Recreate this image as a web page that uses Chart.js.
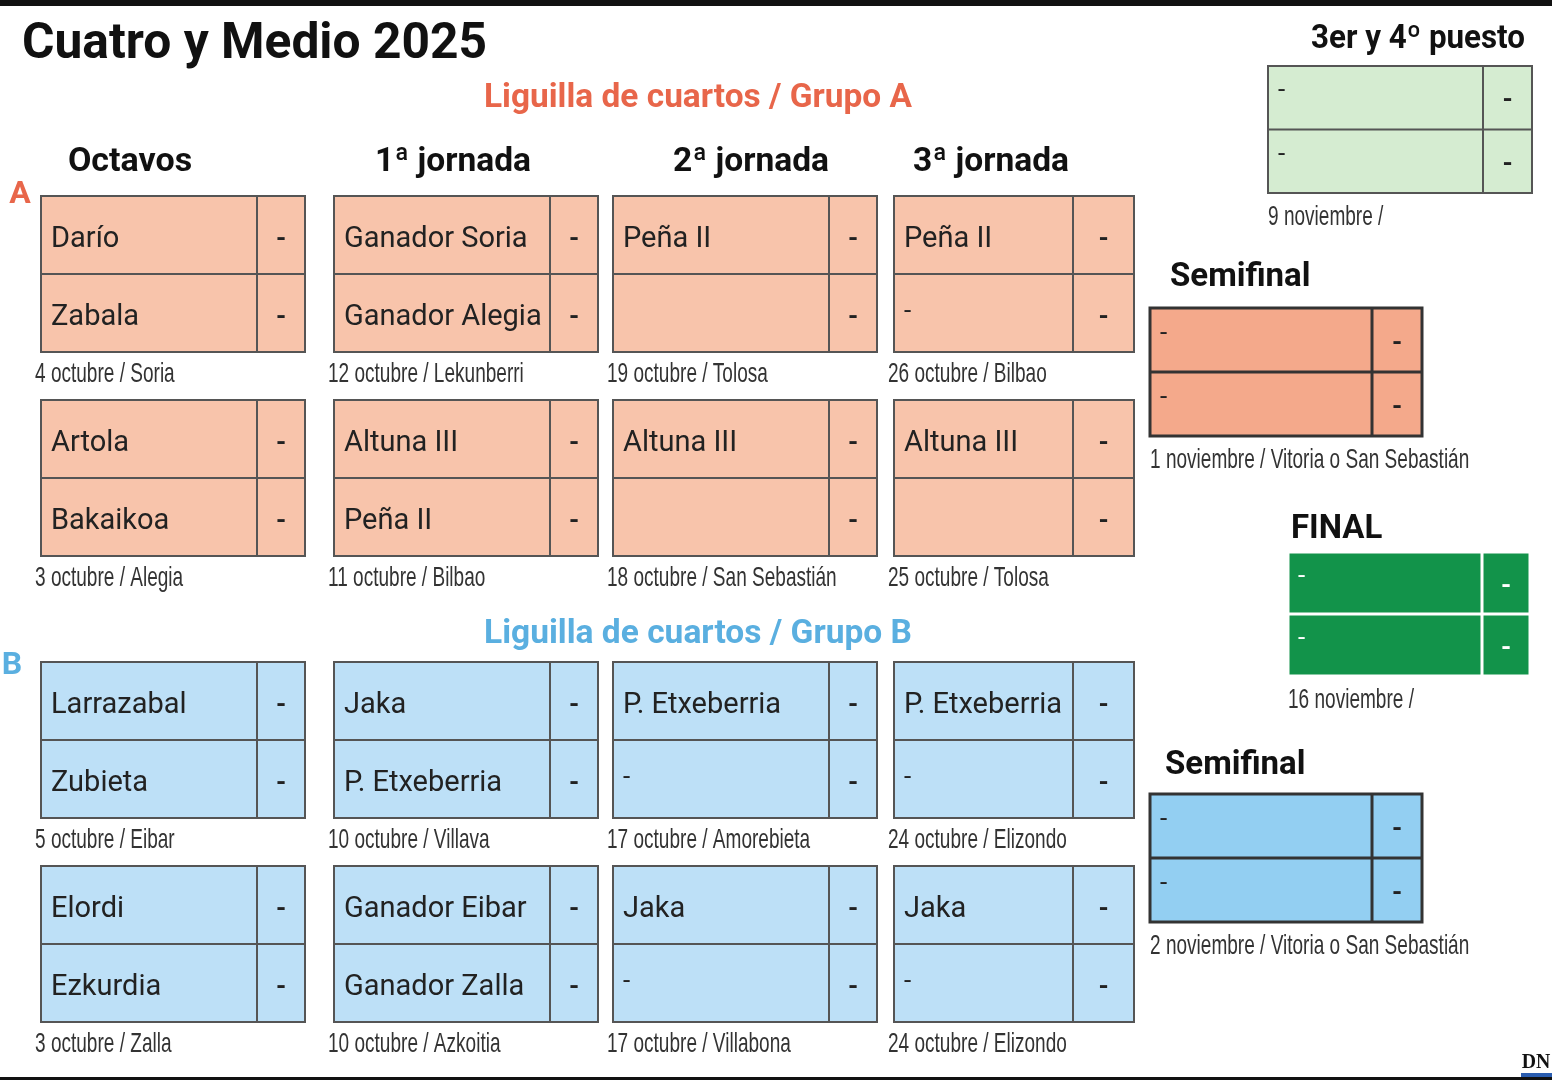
<!DOCTYPE html>
<html><head><meta charset="utf-8">
<script src="https://cdn.jsdelivr.net/npm/chart.js@4/dist/chart.umd.min.js"></script>
<style>html,body{margin:0;padding:0;background:#fff}#wrap{width:1552px;height:1080px;position:relative}</style>
</head><body><div id="wrap"><canvas id="c"></canvas></div>
<script>
const title = "Cuatro y Medio 2025";
const groupTitles = ["Liguilla de cuartos / Grupo A", "Liguilla de cuartos / Grupo B"];
const roundNames = ["Octavos", "1ª jornada", "2ª jornada", "3ª jornada"];

// [round][match] -> [player1, player2]
const groupA = [
  [["Darío", "Zabala"], ["Artola", "Bakaikoa"]],
  [["Ganador Soria", "Ganador Alegia"], ["Altuna III", "Peña II"]],
  [["Peña II", ""], ["Altuna III", ""]],
  [["Peña II", "-"], ["Altuna III", ""]],
];
const datesA = [
  ["4 octubre / Soria", "3 octubre / Alegia"],
  ["12 octubre / Lekunberri", "11 octubre / Bilbao"],
  ["19 octubre / Tolosa", "18 octubre / San Sebastián"],
  ["26 octubre / Bilbao", "25 octubre / Tolosa"],
];
const groupB = [
  [["Larrazabal", "Zubieta"], ["Elordi", "Ezkurdia"]],
  [["Jaka", "P. Etxeberria"], ["Ganador Eibar", "Ganador Zalla"]],
  [["P. Etxeberria", "-"], ["Jaka", "-"]],
  [["P. Etxeberria", "-"], ["Jaka", "-"]],
];
const datesB = [
  ["5 octubre / Eibar", "3 octubre / Zalla"],
  ["10 octubre / Villava", "10 octubre / Azkoitia"],
  ["17 octubre / Amorebieta", "17 octubre / Villabona"],
  ["24 octubre / Elizondo", "24 octubre / Elizondo"],
];
const scores = "-";
const finals = [
  {name: "3er y 4º puesto", date: "9 noviembre /", players: ["-", "-"]},
  {name: "Semifinal", date: "1 noviembre / Vitoria o San Sebastián", players: ["-", "-"]},
  {name: "FINAL", date: "16 noviembre /", players: ["-", "-"]},
  {name: "Semifinal", date: "2 noviembre / Vitoria o San Sebastián", players: ["-", "-"]},
];

const cols = [[41, 257, 305], [334, 550, 598], [613, 829, 877], [894, 1073, 1134]];
const headX = [130, 453, 751, 991];

const bracket = {
  id: "bracket",
  afterDraw(chart) {
    const ctx = chart.ctx;
    const sx = chart.scales.x, sy = chart.scales.y;
    const X = v => sx.getPixelForValue(v), Y = v => sy.getPixelForValue(v);
    const text = (t, x, y, font, color, align, squeeze, maxW) => {
      ctx.save();
      ctx.font = font; ctx.fillStyle = color; ctx.textBaseline = "middle";
      ctx.translate(X(x), Y(y)); ctx.scale(squeeze || 1, 1);
      ctx.textAlign = align || "left";
      if (maxW) ctx.fillText(t, 0, 0, maxW / (squeeze || 1)); else ctx.fillText(t, 0, 0);
      ctx.restore();
    };
    const box = (x0, xd, x1, y0, y1, fill, line, lw) => {
      const ym = (y0 + y1) / 2;
      ctx.save();
      ctx.fillStyle = fill; ctx.fillRect(X(x0), Y(y0), X(x1) - X(x0), Y(y1) - Y(y0));
      ctx.strokeStyle = line; ctx.lineWidth = lw;
      ctx.strokeRect(X(x0), Y(y0), X(x1) - X(x0), Y(y1) - Y(y0));
      ctx.beginPath();
      ctx.moveTo(X(x0), Y(ym)); ctx.lineTo(X(x1), Y(ym));
      ctx.moveTo(X(xd), Y(y0)); ctx.lineTo(X(xd), Y(y1));
      ctx.stroke(); ctx.restore();
    };
    const nameFont = "29px Roboto", dateFont = "28px 'Liberation Sans Narrow', 'Liberation Sans'";

    // frame
    ctx.fillStyle = "#111"; ctx.fillRect(X(0), Y(0), X(1552) - X(0), Y(6) - Y(0));
    ctx.fillRect(X(0), Y(1077), X(1552) - X(0), 3);
    text(title, 22, 45, "bold 50px Roboto", "#111", "left", 1, 465);
    text(groupTitles[0], 698, 98, "bold 34px Roboto", "#e8664a", "center", 1, 428);
    text(groupTitles[1], 698, 634, "bold 34px Roboto", "#5aafe0", "center", 1, 428);
    roundNames.forEach((r, i) => text(r, headX[i], 162, "bold 34px Roboto", "#111", "center", 1, 156));
    text("A", 20, 195, "bold 32px Roboto", "#e8664a", "center");
    text("B", 12, 666, "bold 32px Roboto", "#5aafe0", "center");

    const drawGroup = (data, dates, tops, fill) => {
      data.forEach((round, ri) => {
        const [x0, xd, x1] = cols[ri];
        round.forEach((pair, mi) => {
          const y0 = tops[mi], y1 = y0 + 156;
          box(x0, xd, x1, y0, y1, fill, "#555", 2);
          pair.forEach((p, pi) => {
            const yc = y0 + 39 + pi * 78;
            if (p === "-") text(p, x0 + 10, yc - 1, "26px Roboto", "#222", "left");
            else if (p) text(p, x0 + 10, yc + 5, nameFont, "#222", "left", 1, xd - x0 - 14);
            text(scores, (xd + x1) / 2, yc + 5, "bold 26px Roboto", "#222", "center");
          });
          text(dates[ri][mi], x0 - 6, y1 + 22, dateFont, "#333", "left", 0.68);
        });
      });
    };
    drawGroup(groupA, datesA, [196, 400], "#f8c4ab");
    drawGroup(groupB, datesB, [662, 866], "#bde0f7");

    // right side
    const fb = [
      {x: [1268, 1483, 1532], y: [66, 193], fill: "#d5ecd1", line: "#555", lw: 2, hx: 1525, ha: "right", hy: 40, c: "#222"},
      {x: [1150, 1372, 1422], y: [308, 436], fill: "#f4a98b", line: "#333", lw: 3, hx: 1170, ha: "left", hy: 278, c: "#222"},
      {x: [1288, 1482, 1530], y: [552, 676], fill: "#12934a", line: "#fff", lw: 3, hx: 1291, ha: "left", hy: 530, c: "#fff"},
      {x: [1150, 1372, 1422], y: [794, 922], fill: "#93cff2", line: "#333", lw: 3, hx: 1165, ha: "left", hy: 766, c: "#222"},
    ];
    finals.forEach((f, i) => {
      const b = fb[i];
      text(f.name, b.hx, b.hy, "bold 33px Roboto", "#111", b.ha, 1, i === 0 ? 214 : (i === 2 ? 96 : 150));
      box(b.x[0], b.x[1], b.x[2], b.y[0], b.y[1], b.fill, b.line, b.lw);
      const h = (b.y[1] - b.y[0]) / 2;
      f.players.forEach((p, pi) => {
        const yc = b.y[0] + h / 2 + pi * h;
        text(p, b.x[0] + 10, yc - 6, "26px Roboto", b.c, "left");
        text(scores, (b.x[1] + b.x[2]) / 2, yc + 4, "bold 26px Roboto", b.c, "center");
      });
      text(f.date, b.x[0], b.y[1] + 24, dateFont, "#333", "left", 0.68);
    });
    text("DN", 1536, 1062, "bold 22px 'Liberation Serif'", "#111", "center", 0.9);
    ctx.fillStyle = "#2a5db0"; ctx.fillRect(X(1521), Y(1073), X(1552) - X(1521), 4);
  }
};

new Chart(document.getElementById("c"), {
  type: "scatter",
  data: {datasets: [{data: []}]},
  options: {
    responsive: true, maintainAspectRatio: false, animation: false,
    layout: {padding: 0},
    plugins: {legend: {display: false}, tooltip: {enabled: false}},
    scales: {
      x: {type: "linear", min: 0, max: 1552, display: false},
      y: {type: "linear", min: 0, max: 1080, reverse: true, display: false},
    },
  },
  plugins: [bracket],
});
</script></body></html>
